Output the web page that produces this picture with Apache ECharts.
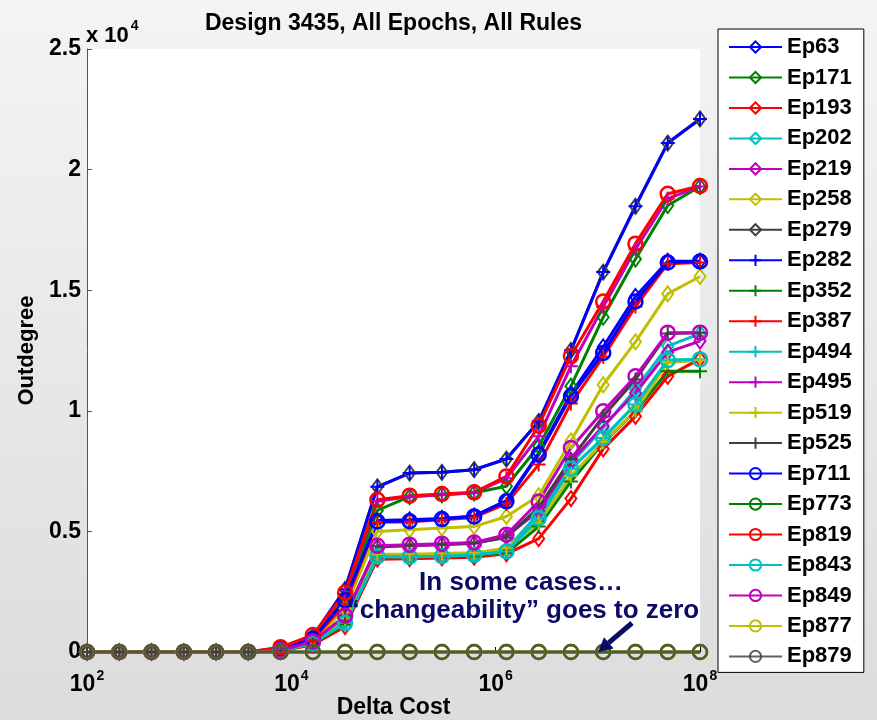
<!DOCTYPE html>
<html>
<head>
<meta charset="utf-8">
<script src="https://cdn.jsdelivr.net/npm/echarts@6/dist/echarts.min.js"></script>
<style>
  html, body { margin: 0; padding: 0; }
  body { width: 877px; height: 720px; background: linear-gradient(#f4f4f4, #dcdcdc); }
  #chart { width: 877px; height: 720px; }
</style>
</head>
<body>
<div id="chart"></div>
<script>
// Delta cost sample points (20 log-spaced costs, 1e2 .. 1e8)
const deltaCost = [100, 206.9, 428.1, 885.9, 1833.0, 3792.7, 7847.6, 16237.8, 33598.2, 69519.3,
  143845.0, 297635.1, 615848.2, 1274275.0, 2636651.0, 5455595.0, 11288379.0, 23357215.0, 48329302.0, 100000000];

// Outdegree per epoch
const ep63  = [0, 0, 0, 0, 0, 0, 110, 560, 2200, 5450, 5480, 5540, 5640, 6280, 8250, 10700, 12650, 14740, 16200, 16200];
const ep171 = [0, 0, 0, 0, 0, 0, 120, 600, 2300, 5870, 6440, 6520, 6600, 6870, 8530, 11020, 13880, 16290, 18510, 19300];
const ep193 = [0, 0, 0, 0, 0, 0, 40, 300, 1050, 3850, 3870, 3900, 3930, 4070, 4700, 6360, 8420, 9770, 11430, 12150];
const ep202 = [0, 0, 0, 0, 0, 0, 50, 360, 1250, 4000, 4000, 4020, 4060, 4250, 5750, 7800, 9300, 10900, 12680, 13200];
const ep219 = [0, 0, 0, 0, 0, 0, 60, 420, 1450, 4350, 4400, 4450, 4500, 4800, 5850, 7900, 9370, 10740, 12430, 12890];
const ep258 = [0, 0, 0, 0, 0, 0, 80, 450, 1800, 5000, 5070, 5140, 5200, 5620, 6480, 8750, 11080, 12860, 14850, 15570];
const ep279 = [0, 0, 0, 0, 0, 0, 150, 650, 2600, 6850, 7420, 7450, 7560, 8000, 9560, 12500, 15750, 18480, 21100, 22100];
const ep282 = [0, 0, 0, 0, 0, 0, 150, 650, 2600, 6850, 7420, 7450, 7560, 8000, 9560, 12500, 15750, 18480, 21100, 22100];
const ep352 = [0, 0, 0, 0, 0, 0, 50, 340, 1150, 3950, 3950, 3960, 3990, 4100, 5200, 7070, 8670, 9980, 11640, 11640];
const ep387 = [0, 0, 0, 0, 0, 0, 80, 500, 2000, 5380, 5400, 5480, 5580, 6150, 7770, 10300, 12240, 14320, 16100, 16150];
const ep494 = [0, 0, 0, 0, 0, 0, 50, 370, 1200, 3960, 3950, 3970, 4030, 4165, 5550, 7600, 8870, 10260, 12100, 12130];
const ep495 = [0, 0, 0, 0, 0, 0, 180, 680, 2400, 6250, 6450, 6520, 6600, 7200, 8940, 11850, 14300, 16700, 18800, 19300];
const ep519 = [0, 0, 0, 0, 0, 0, 60, 380, 1400, 4050, 4050, 4080, 4120, 4300, 5350, 7300, 8700, 10000, 12000, 12100];
const ep525 = [0, 0, 0, 0, 0, 0, 60, 420, 1500, 4380, 4430, 4470, 4520, 4750, 6000, 8000, 9770, 11300, 13200, 13240];
const ep711 = [0, 0, 0, 0, 0, 0, 100, 550, 2150, 5410, 5420, 5510, 5620, 6245, 8180, 10600, 12400, 14530, 16150, 16190];
const ep773 = [0, 0, 0, 0, 0, 0, 0, 0, 0, 0, 0, 0, 0, 0, 0, 0, 0, 0, 0, 0];
const ep819 = [0, 0, 0, 0, 0, 0, 200, 700, 2460, 6310, 6480, 6550, 6620, 7280, 9380, 12270, 14530, 16930, 19000, 19320];
const ep843 = [0, 0, 0, 0, 0, 0, 50, 370, 1200, 3960, 3950, 3970, 4030, 4165, 5550, 7600, 8870, 10260, 12100, 12130];
const ep849 = [0, 0, 0, 0, 0, 0, 60, 430, 1500, 4400, 4450, 4490, 4540, 4860, 6240, 8460, 9980, 11430, 13240, 13240];
const ep877 = [0, 0, 0, 0, 0, 0, 0, 0, 0, 0, 0, 0, 0, 0, 0, 0, 0, 0, 0, 0];
const ep879 = [0, 0, 0, 0, 0, 0, 0, 0, 0, 0, 0, 0, 0, 0, 0, 0, 0, 0, 0, 0];

const seriesNames = ['Ep63', 'Ep171', 'Ep193', 'Ep202', 'Ep219', 'Ep258', 'Ep279',
  'Ep282', 'Ep352', 'Ep387', 'Ep494', 'Ep495', 'Ep519', 'Ep525',
  'Ep711', 'Ep773', 'Ep819', 'Ep843', 'Ep849', 'Ep877', 'Ep879'];
const seriesValues = [ep63, ep171, ep193, ep202, ep219, ep258, ep279,
  ep282, ep352, ep387, ep494, ep495, ep519, ep525,
  ep711, ep773, ep819, ep843, ep849, ep877, ep879];

const xTickValues = [100, 10000, 1000000, 100000000];
const yTickLabels = ['0', '0.5', '1', '1.5', '2', '2.5'];

// colour cycle and marker sets
const palette = ['#0000ff', '#008000', '#ff0000', '#00bfbf', '#bf00bf', '#bfbf00', '#404040'];
const PLUS = 'path://M10,0L10,20M0,10L20,10';
const markers = ['diamond', PLUS, 'circle'];
const markerSizes = [[11, 15], 14, 14];

const FONT = '"Liberation Sans", Arial, Helvetica, sans-serif';

const series = seriesNames.map((name, k) => {
  let color = palette[k % 7];
  if (name === 'Ep879') color = 'rgba(64,64,64,0.82)';
  const m = Math.floor(k / 7);
  return {
    name: name,
    type: 'line',
    data: seriesValues[k].map((v, i) => [deltaCost[i], v]),
    symbol: markers[m],
    symbolSize: markerSizes[m],
    showSymbol: true,
    clip: false,
    lineStyle: { color: color, width: 3 },
    itemStyle: { color: 'rgba(0,0,0,0)', borderColor: color, borderWidth: m === 2 ? 2.5 : 2 },
    emphasis: { disabled: true },
    z: 2
  };
});

const chart = echarts.init(document.getElementById('chart'), null, { renderer: 'canvas' });

chart.setOption({
  animation: false,
  backgroundColor: 'transparent',
  textStyle: { fontFamily: FONT },
  grid: {
    left: 87, right: 177, top: 49, bottom: 68,
    outerBoundsMode: 'none',
    containLabel: false,
    show: true, backgroundColor: '#ffffff', borderWidth: 0
  },
  xAxis: {
    type: 'log',
    logBase: 10,
    min: 100,
    max: 100000000,
    name: 'Delta Cost',
    nameLocation: 'middle',
    nameGap: 44,
    nameMoveOverlap: false,
    nameTextStyle: { fontSize: 23, fontWeight: 'bold', color: '#000', fontFamily: FONT, verticalAlign: 'top' },
    axisLine: { lineStyle: { color: '#000', width: 1 } },
    axisTick: { inside: true, length: 5, lineStyle: { color: '#000' }, customValues: xTickValues },
    minorTick: { show: false },
    splitLine: { show: false },
    axisLabel: {
      margin: 20,
      customValues: xTickValues,
      formatter: function (v) {
        const e = Math.round(Math.log10(v));
        return '{b|10}{s|' + e + '}';
      },
      rich: {
        b: { fontSize: 23, fontWeight: 'bold', color: '#000', fontFamily: FONT, lineHeight: 26 },
        s: { fontSize: 14, fontWeight: 'bold', color: '#000', fontFamily: FONT, padding: [0, 0, 18, 1], lineHeight: 14 }
      }
    }
  },
  yAxis: {
    type: 'value',
    min: 0,
    max: 25000,
    interval: 5000,
    name: 'Outdegree',
    nameLocation: 'middle',
    nameRotate: 90,
    nameGap: 49,
    nameTextStyle: { fontSize: 22, fontWeight: 'bold', color: '#000', fontFamily: FONT },
    axisLine: { show: true, lineStyle: { color: '#555', width: 1 } },
    axisTick: { show: true, inside: true, length: 5, lineStyle: { color: '#555' } },
    splitLine: { show: false },
    axisLabel: {
      margin: 6,
      fontSize: 23,
      fontWeight: 'bold',
      color: '#000',
      fontFamily: FONT,
      formatter: function (v) { return yTickLabels[Math.round(v / 5000)]; }
    }
  },
  legend: {
    orient: 'vertical',
    left: 718,
    top: 29,
    padding: [7, 12, 5, 10],
    itemGap: 8.47,
    itemWidth: 53,
    itemHeight: 14,
    backgroundColor: '#ffffff',
    borderColor: '#000000',
    borderWidth: 1,
    borderRadius: 0,
    selectedMode: false,
    textStyle: { fontSize: 22, fontWeight: 'bold', color: '#000', fontFamily: FONT, lineHeight: 22 },
    data: seriesNames
  },
  graphic: [
    {
      type: 'text', x: 393.5, y: 24, z: 10,
      style: {
        text: 'Design 3435, All Epochs, All Rules',
        font: 'bold 23px ' + FONT, fill: '#000',
        align: 'center', verticalAlign: 'middle'
      }
    },
    {
      type: 'text', x: 86, y: 24, z: 10,
      style: {
        text: '{a|x 10}{b|4}',
        rich: {
          a: { font: 'bold 22px ' + FONT, fill: '#000', lineHeight: 24 },
          b: { font: 'bold 14px ' + FONT, fill: '#000', padding: [0, 0, 20, 2], lineHeight: 14 }
        },
        verticalAlign: 'top'
      }
    },
    {
      type: 'text', x: 521, y: 583, z: 10,
      style: {
        text: 'In some cases\u2026',
        font: 'bold 26px ' + FONT, fill: '#0b0b66',
        align: 'center', verticalAlign: 'middle'
      }
    },
    {
      type: 'text', x: 523, y: 611, z: 10,
      style: {
        text: '\u201Cchangeability\u201D goes to zero',
        font: 'bold 26px ' + FONT, fill: '#0b0b66',
        align: 'center', verticalAlign: 'middle'
      }
    },
    {
      type: 'line', z: 10,
      shape: { x1: 632, y1: 623, x2: 608.6, y2: 642.9 },
      style: { stroke: '#0b0b66', lineWidth: 5 }
    },
    {
      type: 'polygon', z: 10,
      shape: { points: [[598, 652], [613.5, 648.5], [604, 637.3]] },
      style: { fill: '#0b0b66' }
    }
  ],
  series: series
});
</script>
</body>
</html>
